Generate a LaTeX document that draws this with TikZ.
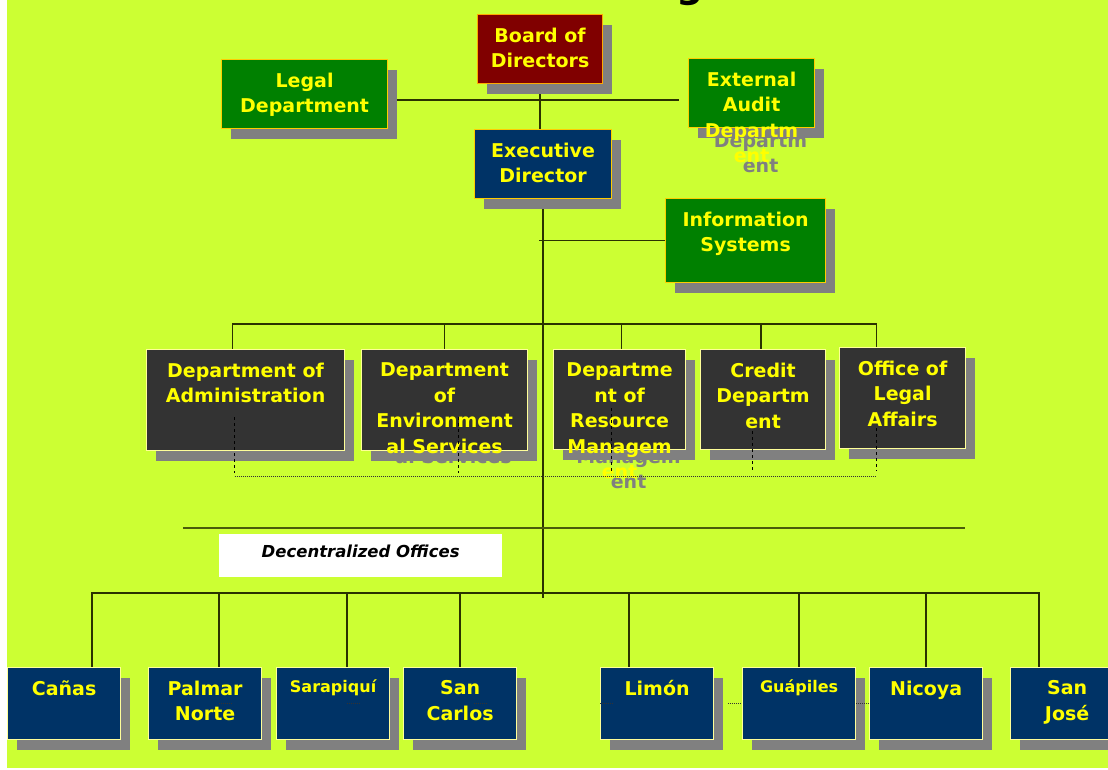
\documentclass[tikz,border=0pt]{standalone}
\usepackage{fontspec}
\setmainfont{DejaVu Sans}
\usetikzlibrary{positioning,shadows,calc}
\definecolor{ChartLime}{HTML}{CCFF33}
\definecolor{BoardRed}{HTML}{800000}
\definecolor{BoardEdge}{HTML}{FFAA00}
\definecolor{StaffGreen}{HTML}{008000}
\definecolor{ExecNavy}{HTML}{003366}
\definecolor{DeptGray}{HTML}{333333}
\definecolor{EdgeGold}{HTML}{FFCC00}
\definecolor{EdgeCream}{HTML}{FFFF99}
\definecolor{ShadowGray}{HTML}{808080}
\definecolor{LabelYellow}{HTML}{FFFF00}
\definecolor{LineDark}{HTML}{2A3300}
\pgfdeclarelayer{background}
\pgfsetlayers{background,main}

\begin{document}
\begin{tikzpicture}[x=1pt,y=-1pt,
  box/.style={draw=EdgeGold,line width=1.2pt,anchor=north west,inner sep=0pt,
    drop shadow={shadow xshift=9pt,shadow yshift=-10pt,fill=ShadowGray,opacity=1}},
  dims/.style 2 args={minimum width=#1pt,minimum height=#2pt},
  deptbox/.style={box,fill=DeptGray,draw=EdgeCream},
  officebox/.style={box,fill=ExecNavy,draw=EdgeCream,dims={113}{72}},
  txt/.style={text=LabelYellow,font=\bfseries\fontsize{19}{25.5}\selectfont,
    align=center,anchor=north,inner sep=0pt,yshift=-13.5pt},
  smalltxt/.style={txt,font=\bfseries\fontsize{16}{21}\selectfont,yshift=1.5pt},
  echo/.style={txt,text=ShadowGray,xshift=9pt,yshift=-10pt},
  conn/.style={draw=LineDark,line width=1.5pt},
  rulebar/.style={draw=LineDark!80!ChartLime,line width=2pt},
  dashbar/.style={draw=black,line width=1.2pt,dash pattern=on 3pt off 3pt},
  dotbar/.style={draw=black!80,line width=0.8pt,dash pattern=on 1pt off 1pt},
  tag/.style={fill=white,anchor=north west,inner sep=0pt,dims={283}{43},
    font=\bfseries\itshape\fontsize{16.5}{20}\selectfont,text height=12pt,text depth=9pt}
]
\useasboundingbox (0,0) rectangle (1108,769);
\clip (0,0) rectangle (1108,769);
\begin{pgfonlayer}{background}
  \fill[white] (0,0) rectangle (1108,769);
  \fill[ChartLime] (7,0) rectangle (1108,768);
\end{pgfonlayer}

% title, cut by the top edge
\node[anchor=base,inner sep=0pt,font=\bfseries\fontsize{38}{38}\selectfont] (titleg) at (690,-2.5) {g};

% top level
\node[box,fill=BoardRed,draw=BoardEdge,dims={125}{69}] (board) at (477,14) {};
\node[box,fill=StaffGreen,dims={166}{69}] (legal) at (221,59) {};
\node[box,fill=StaffGreen,dims={126}{69}] (ext) at (688,58) {};
\node[box,fill=ExecNavy,dims={137}{69}] (exec) at (474,129) {};
\node[box,fill=StaffGreen,dims={160}{84}] (info) at (665,198) {};

% departments
\node[deptbox,dims={198}{101}] (admin) at (146,349) {};
\node[deptbox,dims={166}{101}] (env) at (361,349) {};
\node[deptbox,dims={132}{100}] (res) at (553,349) {};
\node[deptbox,dims={125}{100}] (credit) at (700,349) {};
\node[deptbox,dims={126}{101}] (affairs) at (839,347) {};

% regional offices
\foreach \n/\x in {canas/7,palmar/148,sarap/276,sancarlos/403,limon/600,guapiles/742,nicoya/869,sanjose/1010}
  \node[officebox] (\n) at (\x,667) {};

\node[tag] (decentral) at (219,534) {Decentralized Offices};

% labels
\foreach \n/\t in {board/{Board of\\Directors},legal/{Legal\\Department},
    ext/{External\\Audit\\Departm\\ent},exec/{Executive\\Director},
    info/{Information\\Systems},admin/{Department of\\Administration},
    env/{Department\\of\\Environment\\al Services},
    res/{Departme\\nt of\\Resource\\Managem\\ent},credit/{Credit\\Departm\\ent},
    affairs/{Office of\\Legal\\Affairs},canas/{Cañas},palmar/{Palmar\\Norte},
    sancarlos/{San\\Carlos},limon/{Limón},nicoya/{Nicoya},sanjose/{San\\José}}
  \node[txt] (\n-txt) at (\n.north) {\t};
\node[smalltxt] (sarap-txt) at (sarap.north) {Sarapiquí};
\node[smalltxt] (guapiles-txt) at (guapiles.north) {Guápiles};

\begin{pgfonlayer}{background}
  % text running out of its box
  \node[echo] (ext-echo) at (ext.north) {External\\Audit\\Departm\\ent};
  \node[echo] (env-echo) at (env.north) {Department\\of\\Environment\\al Services};
  \node[echo] (res-echo) at (res.north) {Departme\\nt of\\Resource\\Managem\\ent};

  % connectors
  \draw[conn] (board.south) -- (board.south |- exec.north);
  \coordinate (staffbus) at (539,100);
  \draw[conn] (legal.east |- staffbus) -- ([xshift=-9pt]ext.west |- staffbus);
  \coordinate (trunk) at (542,598);
  \draw[conn] (exec.south) -- (exec.south |- trunk);
  \draw[conn] (info.west) -- ([xshift=-4pt]info.west -| exec.south);
  \draw[conn] ([xshift=-13pt]admin.north) -- ++(0,-25) -| ([xshift=-26pt]affairs.north);
  \foreach \n/\dx in {env/0,res/2,credit/-2}
    \draw[conn] ([xshift=\dx pt]\n.north) -- ++(0,-25);
  \draw[rulebar] (183,528) -- (965,528);
  \draw[conn] ([xshift=28pt]canas.north) -- ++(0,-74) -| ([xshift=-28pt]sanjose.north);
  \foreach \n/\dx in {palmar/14,sarap/14,sancarlos/0,limon/-28,guapiles/0,nicoya/0}
    \draw[conn] ([xshift=\dx pt]\n.north) -- ++(0,-74);
\end{pgfonlayer}

% dashed ties below the departments
\foreach \n/\dx/\dy in {admin/-11/34,env/14/34,res/-8/42,credit/-11/19,affairs/-26/21}
  \draw[dashbar] ([xshift=\dx pt,yshift=\dy pt]\n.south) -- ([xshift=\dx pt,yshift=-22pt]\n.south);
\draw[dotbar] ([xshift=-11pt,yshift=-25pt]admin.south) -- ([xshift=-26pt,yshift=-27pt]affairs.south);

% dotted traces across the offices
\foreach \n in {palmar,sarap,sancarlos}
  \draw[dotbar] ([xshift=14pt]\n.center) -- ++(14,0);
\draw[dotbar] (limon.west) -- ++(14,0);
\draw[dotbar] ([xshift=14pt]limon.east) -- (guapiles.west);
\draw[dotbar] (guapiles.east) -- (nicoya.west);
\end{tikzpicture}
\end{document}
